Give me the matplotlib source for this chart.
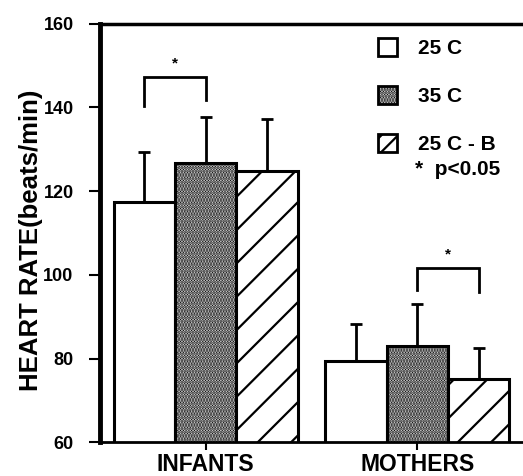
import matplotlib
matplotlib.use("Agg")
import matplotlib.pyplot as plt
import numpy as np
from matplotlib.patches import Patch

plt.rcParams["font.family"] = ["Liberation Sans", "DejaVu Sans"]
plt.rcParams["font.weight"] = "bold"
plt.rcParams["hatch.linewidth"] = 1.6

# ---- data ----
groups = ["INFANTS", "MOTHERS"]
conditions = ["25 C", "35 C", "25 C - B"]
infants_mean = [117.3, 126.7, 124.8]
infants_err = [12.1, 11.1, 12.4]
mothers_mean = [79.3, 83.0, 75.0]
mothers_err = [8.9, 10.0, 7.5]

# significance brackets: (group, bar_a, bar_b, top, left leg end, right leg end)
sig_infants = (0, 0, 1, 147.3, 140.4, 141.8)
sig_mothers = (1, 1, 2, 101.6, 96.4, 96.0)

hatches = ["", "......", "/"]
faces = ["white", "white", "white"]

fig = plt.figure(figsize=(5.23, 4.76), dpi=100)
ax = fig.add_axes([0.191, 0.071, 0.809, 0.879])

x = np.arange(len(groups))
width = 0.29
means = np.array([infants_mean, mothers_mean])
errs = np.array([infants_err, mothers_err])

for i, cond in enumerate(conditions):
    pos = x + (i - 1) * width
    ax.bar(pos, means[:, i], width, color=faces[i], edgecolor="black",
           linewidth=2.2, hatch=hatches[i], zorder=2)
    ax.errorbar(pos, means[:, i], yerr=[np.zeros(len(groups)), errs[:, i]],
                fmt="none", ecolor="black", elinewidth=2, capsize=4.5,
                capthick=2, zorder=1)

# brackets
for g, a, b, top, la, lb in [sig_infants, sig_mothers]:
    xa = x[g] + (a - 1) * width
    xb = x[g] + (b - 1) * width
    ax.plot([xa, xa, xb, xb], [la, top, top, lb], color="black", lw=2,
            solid_joinstyle="miter")
    ax.text((xa + xb) / 2, top + 3.2, "*", ha="center", va="center",
            fontsize=11)

ax.set_xlim(-0.5, 1.5)
ax.set_ylim(60, 160)
ax.set_yticks([60, 80, 100, 120, 140, 160])
ax.set_xticks(x)
ax.set_xticklabels(groups, fontsize=16.5, fontweight="bold")
ax.tick_params(axis="y", labelsize=13, length=8, width=1.5, pad=11,
               direction="out")
ax.tick_params(axis="x", length=6, width=1.5, pad=2, direction="out")
ax.set_ylabel("HEART RATE(beats/min)", fontsize=18.5, fontweight="bold",
              va="center")
ax.yaxis.set_label_coords(-0.163, 0.483)

ax.spines["right"].set_visible(False)
ax.spines["left"].set_linewidth(3.5)
ax.spines["bottom"].set_linewidth(2)
ax.spines["top"].set_linewidth(2.5)

handles = [Patch(facecolor=faces[i], edgecolor="black", hatch=hatches[i] * 2 if i == 2 else hatches[i],
                 linewidth=2, label=c) for i, c in enumerate(conditions)]
ax.legend(handles=handles, loc="upper left", bbox_to_anchor=(0.614, 1.01),
          frameon=False, fontsize=15, handlelength=0.9, handleheight=0.9,
          handletextpad=1.0, labelspacing=1.35)
ax.text(0.745, 0.652, "*  p<0.05", transform=ax.transAxes, fontsize=15,
        ha="left", va="center")

fig.savefig("out.png", dpi=100)
